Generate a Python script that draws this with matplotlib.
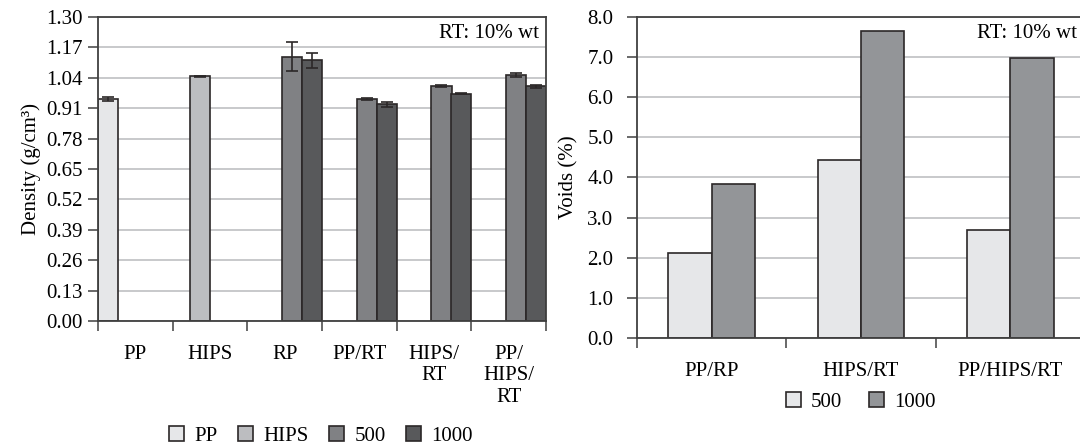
import matplotlib
matplotlib.use("Agg")
import matplotlib.pyplot as plt
from matplotlib.patches import Patch
import numpy as np

plt.rcParams['font.family'] = ['Liberation Serif', 'DejaVu Serif']
plt.rcParams['font.size'] = 15

# ---------------- data ----------------
dens_categories = ["PP", "HIPS", "RP", "PP/RT", "HIPS/\nRT", "PP/\nHIPS/\nRT"]
dens_series = ["PP", "HIPS", "500", "1000"]
dens_pp = [0.949, None, None, None, None, None]
dens_pp_err = [0.010, None, None, None, None, None]
dens_hips = [None, 1.046, None, None, None, None]
dens_hips_err = [None, 0.003, None, None, None, None]
dens_500 = [None, None, 1.131, 0.949, 1.005, 1.051]
dens_500_err = [None, None, 0.062, 0.004, 0.003, 0.008]
dens_1000 = [None, None, 1.115, 0.926, 0.972, 1.003]
dens_1000_err = [None, None, 0.032, 0.010, 0.002, 0.005]
dens_yticks = [0.00, 0.13, 0.26, 0.39, 0.52, 0.65, 0.78, 0.91, 1.04, 1.17, 1.30]

void_categories = ["PP/RP", "HIPS/RT", "PP/HIPS/RT"]
void_series = ["500", "1000"]
void_500 = [2.11, 4.43, 2.69]
void_1000 = [3.85, 7.64, 6.98]
void_yticks = [0.0, 1.0, 2.0, 3.0, 4.0, 5.0, 6.0, 7.0, 8.0]

annotation = "RT: 10% wt"

# ---------------- style ----------------
EDGE = "#2b2728"
SPINE = "#404040"
GRID = "#c8c9cb"
dens_colors = ["#e6e7e9", "#bcbdc0", "#808184", "#58595b"]
void_colors = ["#e6e7e9", "#939598"]

W, H = 1080, 448
fig = plt.figure(figsize=(W / 100, H / 100), dpi=100)

def px_axes(x0, y_top, x1, y_bot):
    return fig.add_axes([x0 / W, (H - y_bot) / H, (x1 - x0) / W, (y_bot - y_top) / H])

def style_axes(ax, ncat, pad_y):
    ax.set_xlim(-0.5, ncat - 0.5)
    ax.set_axisbelow(True)
    ax.yaxis.grid(True, color=GRID, linewidth=1.4)
    ax.xaxis.grid(False)
    for s in ax.spines.values():
        s.set_color(SPINE)
        s.set_linewidth(1.3)
    ax.tick_params(axis='y', direction='out', length=7, width=1.1, color=SPINE, pad=pad_y)
    ax.set_xticks(np.arange(ncat))
    ax.tick_params(axis='x', which='major', length=0, pad=17)
    ax.set_xticks(np.arange(ncat + 1) - 0.5, minor=True)
    ax.tick_params(axis='x', which='minor', direction='out', length=7, width=1.1, color=SPINE)

# ---------------- left: density ----------------
ax1 = px_axes(98, 17, 546, 321)
x = np.arange(len(dens_categories))
offsets = [-0.365, -0.13, 0.10, 0.365]
bw = 0.27
for vals, errs, off, col in zip([dens_pp, dens_hips, dens_500, dens_1000],
                                [dens_pp_err, dens_hips_err, dens_500_err, dens_1000_err],
                                offsets, dens_colors):
    xs = [xi + off for xi, v in zip(x, vals) if v is not None]
    vs = [v for v in vals if v is not None]
    es = [e for e, v in zip(errs, vals) if v is not None]
    ax1.bar(xs, vs, width=bw, color=col, edgecolor=EDGE, linewidth=1.2, zorder=2)
    ax1.errorbar(xs, vs, yerr=es, fmt='none', ecolor=EDGE, elinewidth=1.2,
                 capsize=4, capthick=1.2, zorder=3)
ax1.set_ylim(0, 1.30)
ax1.set_yticks(dens_yticks)
ax1.set_yticklabels([f"{t:.2f}" for t in dens_yticks])
style_axes(ax1, len(dens_categories), 4)
ax1.set_xticklabels(dens_categories, linespacing=1.2, va='top')
ax1.set_ylabel("Density (g/cm³)", labelpad=4)
ax1.text(0.985, 0.945, annotation, transform=ax1.transAxes, ha='right', va='center')

fig.legend(handles=[Patch(facecolor=c, edgecolor=EDGE, linewidth=1.2) for c in dens_colors],
           labels=dens_series, loc='center', bbox_to_anchor=(321 / W, 1 - 436 / H),
           ncol=4, frameon=False, handlelength=0.7, handleheight=0.7,
           handletextpad=0.5, columnspacing=1.0, fontsize=15)

# ---------------- right: voids ----------------
ax2 = px_axes(637, 17, 1085, 338)
x2 = np.arange(len(void_categories))
bw2 = 0.29
ax2.bar(x2 - bw2 / 2, void_500, width=bw2, color=void_colors[0], edgecolor=EDGE, linewidth=1.2, zorder=2)
ax2.bar(x2 + bw2 / 2, void_1000, width=bw2, color=void_colors[1], edgecolor=EDGE, linewidth=1.2, zorder=2)
ax2.set_ylim(0, 8.0)
ax2.set_yticks(void_yticks)
ax2.set_yticklabels([f"{t:.1f}" for t in void_yticks])
style_axes(ax2, len(void_categories), 10)
ax2.set_xticklabels(void_categories)
ax2.set_ylabel("Voids (%)", labelpad=6)
ax2.text((1077 - 637) / (1085 - 637), (338 - 33) / (338 - 17), annotation,
         transform=ax2.transAxes, ha='right', va='center')

fig.legend(handles=[Patch(facecolor=c, edgecolor=EDGE, linewidth=1.2) for c in void_colors],
           labels=void_series, loc='center', bbox_to_anchor=(861 / W, 1 - 402 / H),
           ncol=2, frameon=False, handlelength=0.7, handleheight=0.7,
           handletextpad=0.5, columnspacing=1.3, fontsize=15)

fig.savefig("out.png", dpi=100)
